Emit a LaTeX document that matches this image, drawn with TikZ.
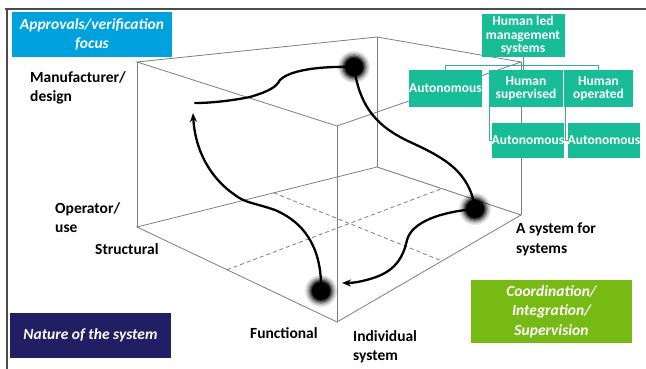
\documentclass[tikz,border=0pt]{standalone}
\usepackage{fontspec}
\setmainfont{Carlito}
\usetikzlibrary{arrows.meta,calc}
\definecolor{skyblue}{RGB}{0,162,222}
\definecolor{navyblue}{RGB}{33,31,100}
\definecolor{leafgreen}{RGB}{120,186,20}
\definecolor{tealbox}{RGB}{24,189,152}
\definecolor{edgegray}{RGB}{125,125,125}
\begin{document}
\begin{tikzpicture}[x=1pt,y=-1pt,
  edge/.style={draw=edgegray, line width=0.8pt},
  midline/.style={draw=edgegray, line width=0.8pt, dash pattern=on 4pt off 3pt},
  flow/.style={draw=black, line width=2.3pt, line cap=round},
  tip/.style={-{Stealth[length=9pt,width=7pt]}},
  lbl/.style={font=\bfseries\fontsize{15.5}{19.5}\selectfont, align=left, anchor=north west, inner sep=0pt},
  panel/.style={font=\bfseries\itshape\fontsize{15.5}{19.5}\selectfont, text=white, align=center, inner sep=0pt},
  tbox/.style={fill=tealbox, text=white, font=\bfseries\fontsize{13.5}{13.5}\selectfont, align=center, inner sep=0pt},
  tline/.style={draw=tealbox!70!gray, line width=1pt},
]
\useasboundingbox (0,0) rectangle (646,369);
\fill[white] (0,0) rectangle (646,369);

% frame
\draw[gray!60!black, line width=1.2pt] (5,9) -- (646,9);
\draw[gray!60!black, line width=1.2pt] (7,9) -- (7,369);

% cube corners
\coordinate (A) at (137,62);
\coordinate (B) at (377,37);
\coordinate (C) at (521,62);
\coordinate (D) at (337,126);
\coordinate (L) at (137,227);
\coordinate (H) at (377,167);
\coordinate (G) at (521,215);
\coordinate (F) at (337,322);

% cube edges
\draw[edge] (A) -- (B) -- (C) -- (D) -- cycle;
\draw[edge] (L) -- (H) -- (G) -- (F) -- cycle;
\draw[edge] (A) -- (L);
\draw[edge] (B) -- (H);
\draw[edge] (C) -- (G);
\draw[edge] (D) -- (F);

% dashed division of the floor
\draw[midline] ($(L)!0.57!(H)$) -- ($(F)!0.57!(G)$);
\draw[midline] ($(L)!0.45!(F)$) -- ($(H)!0.45!(G)$);

% cycle path
\coordinate (d1) at (354,67);
\coordinate (d2) at (475,209);
\coordinate (d3) at (321,291);
\coordinate (e1) at (195,103);
\coordinate (a1) at (193,113);
\coordinate (a2) at (342,283);

\draw[flow] (d1) .. controls (320,66) and (290,70) .. (280,80)
  .. controls (276,87) and (270,91) .. (250,97)
  .. controls (230,101) and (210,103) .. (e1);
\draw[flow] (d1) .. controls (360,110) and (380,128) .. (410,142)
  .. controls (445,158) and (470,172) .. (d2);
\draw[flow, tip] (d2) .. controls (440,212) and (412,222) .. (407,240)
  .. controls (403,258) and (395,272) .. (370,279)
  .. controls (360,282) and (352,283) .. (a2);
\draw[flow, tip] (d3) .. controls (322,255) and (310,225) .. (275,210)
  .. controls (255,203) and (245,203) .. (235,195)
  .. controls (210,178) and (195,150) .. (a1);

% soft dots
\foreach \p in {d1,d2,d3}{
  \foreach \r/\o in {16/0.1,14.5/0.15,13/0.25,11.5/0.4,10/0.6,9/1}
    \fill[black, opacity=\o] (\p) circle (\r pt);
}

% axis labels
\node[lbl] (manu) at (30,71) {Manufacturer/\\design};
\node[lbl] (oper) at (55,202) {Operator/\\use};
\node[lbl] (struc) at (95,243) {Structural};
\node[lbl] (func) at (250,327) {Functional};
\node[lbl] (indiv) at (353,330) {Individual\\system};
\node[lbl] (sos) at (516,223) {A system for\\systems};

% coloured panels
\node[panel, fill=skyblue, minimum width=160pt, minimum height=45pt] (appr) at (92,34.5) {Approvals/verification\\focus};
\node[panel, fill=navyblue, minimum width=161pt, minimum height=45pt] (nature) at (90.5,335.5) {Nature of the system};
\node[panel, fill=leafgreen, minimum width=161pt, minimum height=63pt] (coord) at (551.5,311.5) {Coordination/\\Integration/\\Supervision};

% management tree
\node[tbox, minimum width=83pt, minimum height=43pt] (hl) at (523,35.5) {Human led\\management\\systems};
\node[tbox, minimum width=73pt, minimum height=37pt] (au1) at (445.5,88.5) {Autonomous};
\node[tbox, minimum width=74pt, minimum height=37pt] (hs) at (526,88.5) {Human\\supervised};
\node[tbox, minimum width=69pt, minimum height=37pt] (ho) at (598.5,88.5) {Human\\operated};
\node[tbox, minimum width=72pt, minimum height=35pt] (au2) at (528,140.5) {Autonomous};
\node[tbox, minimum width=72pt, minimum height=35pt] (au3) at (604,140.5) {Autonomous};

\coordinate (hub) at ($(hl.south)+(0,8)$);
\draw[tline] (hl.south) -- (hl.south |- hs.north);
\draw[tline] (hub) -| (au1.north);
\draw[tline] (hub) -| (ho.north);
\draw[tline] ([xshift=1pt]hs.south west) |- (au2.west);
\draw[tline] ([xshift=2pt]ho.south west) |- (au3.west);
\end{tikzpicture}
\end{document}
